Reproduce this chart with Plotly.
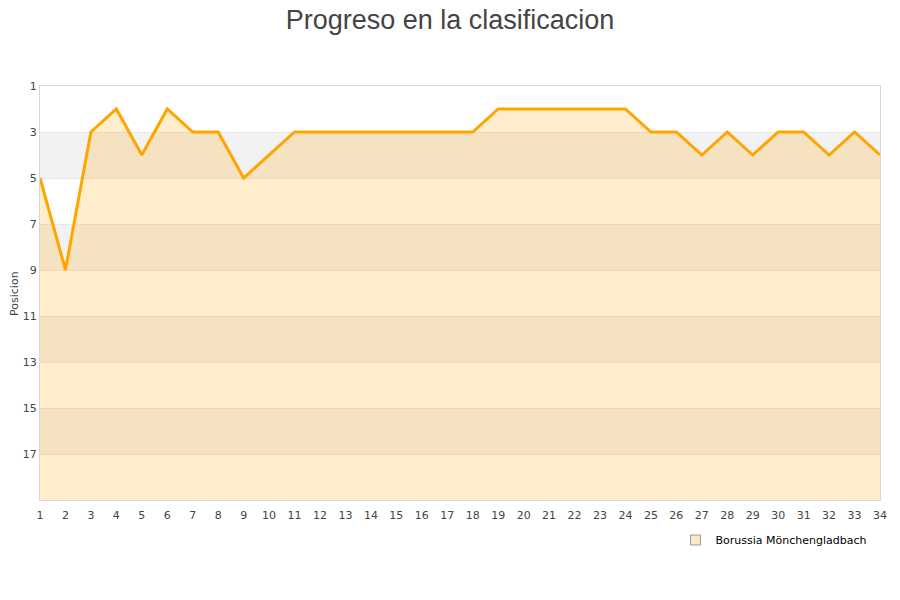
#!/usr/bin/env python
# coding: utf-8

"""
Progreso en la clasificacion - Borussia Mönchengladbach, posicion por jornada.
"""

import plotly.graph_objects as go

## Data
team = "Borussia Mönchengladbach"
jornadas = list(range(1, 35))
posicion = [5, 9, 3, 2, 4, 2, 3, 3, 5, 4, 3, 3, 3, 3, 3, 3, 3, 3,
  2, 2, 2, 2, 2, 2, 3, 3, 4, 3, 4, 3, 3, 4, 3, 4]
yticks = [1, 3, 5, 7, 9, 11, 13, 15, 17]
fondo = [19] * len(jornadas)

# The page has an 8px body margin, so margins are shifted to compensate
fig = go.Figure()

# Gray bands every other two positions
for y0 in [3, 7, 11, 15]:
  fig.add_shape(type="rect", xref="paper", yref="y", x0=0, x1=1, y0=y0, y1=y0 + 2,
    fillcolor="#f2f2f2", line=dict(width=0), layer="below")

# Baseline for the area fill (bottom of the chart)
fig.add_trace(go.Scatter(x=jornadas, y=fondo, mode="lines",
  line=dict(width=0, color="rgba(0,0,0,0)"), showlegend=False, hoverinfo="skip"))
# Area + line for the team
fig.add_trace(go.Scatter(x=jornadas, y=posicion, mode="lines", fill="tonexty",
  fillcolor="rgba(255,165,0,0.2)", line=dict(color="#ffa500", width=3),
  name=team, showlegend=False))
# Legend entry
fig.add_trace(go.Scatter(x=[None], y=[None], mode="markers", name=team,
  marker=dict(symbol="square", size=10, color="#fde8c4",
  line=dict(color="#999999", width=1))))

# Y-axis title placed by hand (no automargin)
fig.add_annotation(text="Posicion", xref="paper", yref="paper", x=-0.031, y=0.5,
  xanchor="center", yanchor="middle", textangle=-90, showarrow=False,
  font=dict(family="DejaVu Sans", size=11, color="#444444"))

fig.update_xaxes(range=[1, 34], tickmode="array", tickvals=jornadas,
  showgrid=False, zeroline=False, showline=True, linecolor="#d8d8d8", mirror=True,
  ticks="", ticklabelstandoff=5, automargin=False,
  tickfont=dict(family="DejaVu Sans", size=11, color="#444444"))
fig.update_yaxes(range=[19, 1], tickmode="array", tickvals=yticks,
  showgrid=True, gridcolor="#e6e6e6", zeroline=False, showline=True,
  linecolor="#d8d8d8", mirror=True, ticks="", automargin=False,
  tickfont=dict(family="DejaVu Sans", size=11, color="#444444"))

fig.update_layout(width=900, height=600,
  title=dict(text="Progreso en la clasificacion", x=0.4911, xanchor="center",
  y=0.981, yanchor="middle",
  font=dict(family="Liberation Sans", size=27, color="#444444")),
  plot_bgcolor="white", paper_bgcolor="white",
  margin=dict(l=32, r=28, t=78, b=108),
  legend=dict(orientation="h", x=0.991, xanchor="right", y=-0.0966, yanchor="middle",
  bgcolor="rgba(255,255,255,0)",
  font=dict(family="DejaVu Sans", size=11, color="#000000")))

fig.write_html("out.html")
